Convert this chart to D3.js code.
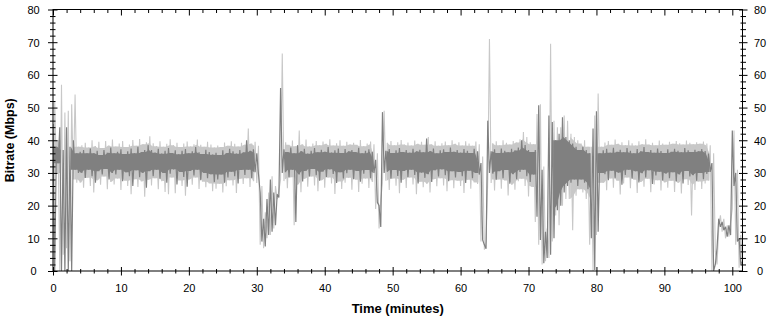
<!DOCTYPE html>
<html><head><meta charset="utf-8">
<script src="https://cdn.jsdelivr.net/npm/d3@7"></script>
<style>
html,body{margin:0;padding:0;background:#fff;}
svg{display:block;}
text{font-family:"Liberation Sans",Arial,sans-serif;fill:#000;}
</style></head>
<body>
<svg id="chart" width="773" height="320"></svg>
<script>
// ---- data: bitrate samples (Mbps), one high/low pair every half minute ----
const minutes = d3.range(0, 102, 0.5); // 0 .. 101.5

const darkHigh = [
45,38,44,37,44,38,40,36,
36.5,37,36,37.5,36,36.8,35.5,37,36.2,37.8,
36,36.5,37.2,35.8,36.6,37.5,36,38,36.4,37,
38.5,37,36.2,37.4,35.9,36.8,37.6,36.1,36.9,35.7,
36.8,37.3,36,36.6,37.9,36.3,35.8,37.1,36.4,35.6,
36.2,35.5,36.9,36.1,37.4,36.6,35.9,37,36.3,40,
36.8,37.2,36,
24,16,22,28,24,23.5,56,
37.2,36.4,37.8,36,38.5,36.7,37.4,35.9,36.8,37.6,
36.3,37.1,36.5,37.9,36.2,36.9,37.5,36.1,37.3,36.6,
37,36.4,37.7,36,36.8,37.2,36.5,
34,20,48.6,
36.8,37.3,36.1,36.9,37.6,36.4,37,36.2,37.4,36.6,
37.1,36.3,40.5,36.7,37.5,36,36.9,37.2,36.4,37.8,
36.5,37,36.2,37.3,36.8,36.1,37.4,36.6,
33,8,46,
36.6,37.2,36.1,37.5,36.8,36.3,37.4,36.9,37.8,40,38.5,37,36.4,
37,50.7,31,12,47.6,45.6,40,42,47,41,40,39,38,37,38,37,36,43.6,48.9,36,
36.9,37.4,36.2,37.7,36.5,37.1,36.3,37.6,36.8,36,
37.3,36.6,37.9,36.4,37,36.2,37.5,36.7,36.1,37.2,
36.5,37.4,36.8,36.3,37.6,36.9,36.4,37.1,36.6,37.3,36.7,35.9,
33,2,16,15,13.5,14,43,30,10,3
];
const darkLow = [
0,33,0,0,0,0,31,30,
30,28.5,31,29,27,30.5,29.5,31.2,28,30,
29.5,31,27.5,30.2,29,26,30.8,28.7,30,25.5,
30.5,29,31,28.2,30,27,29.8,31.1,26.5,30.3,
28.8,25.8,30.6,29.2,31,27.8,30,28.4,29.6,27.2,
28,29.5,27,28.6,30.4,29,26.8,30.9,29.4,31,
28.5,30.2,29.6,
9,7.5,11,12,14,22.5,30,
30.2,28.6,31,15,29.5,27.4,30.6,28.9,31.2,29.3,
27.6,30.4,28.8,31.1,29.7,26.9,30.2,28.3,29.9,31,
28.1,30.6,27.3,29.8,30.9,28.5,30,
21,13.5,30,
30.4,28.2,30.9,29.1,27,30.6,28.7,31,29.4,26.8,
30.1,28.5,29.6,27.2,30.8,28.9,31.1,29.3,27.5,30.5,
28.6,30.3,29,26.9,30.7,28.4,30,29.5,
9.5,6.8,30,
29.8,27.9,30.5,28.4,30.9,26.7,29.6,28.1,30.3,31,29,27.2,29.5,
16.6,9.5,2.4,4,5,10,18.6,20,24,26,27,28,26,28,27,25,10,0.3,12,30,
29.6,27.8,30.7,28.5,30.1,26.4,29.4,31,28.2,30.5,
27.1,29.9,28.6,30.8,26.6,29.2,30.4,27.7,29.8,28.4,
30.2,27.4,29.5,26.8,30.6,28.9,29.3,27.6,30,28.1,29.7,30.3,
0,7,13.5,12.5,10.5,11,26,9,2,0
];
const lightHigh = [
52,40,57,48.5,49,51,54,38,
38.5,39.2,37.8,40,38.2,39.5,37.6,39.8,38.4,40.2,
38.1,39,39.8,37.9,38.7,40.1,38.3,40.4,38.8,39.4,
41.2,39.1,38.2,39.7,38,38.9,40.3,38.5,39.2,37.9,
39,39.6,38.1,38.8,40.2,38.6,38,39.5,38.7,37.8,
38.4,37.9,39.3,38.3,39.7,38.9,38.1,39.2,38.6,43.6,
39,39.5,38.3,
26,18,24,29,26,24.5,66.5,
39.4,38.6,39.9,38.2,43,38.8,40.2,38.1,39,39.8,
38.5,39.6,38.9,40.3,38.4,39.1,40,38.3,39.5,38.7,
39.2,38.6,40.1,38.2,39,39.6,38.8,
36,22,49,
39.2,39.8,38.5,39.4,40.1,38.7,39.3,38.4,39.9,38.9,
39.5,38.6,41,38.8,39.7,38.3,39.1,39.6,38.5,40,
38.9,39.4,38.4,39.7,39,38.3,39.6,38.8,
35,9,71,
39.1,39.7,38.5,40,39.2,38.7,39.8,39.3,40.3,42.5,41,39.4,38.8,
48,51,32,13,69.5,46,44,44,47.6,46,42,41,40,39,40,38,38,47.6,54.3,38,
39.3,39.8,38.6,40.2,38.9,39.4,38.5,40,39.1,38.4,
39.7,38.8,40.3,38.7,39.2,38.5,39.9,39,38.6,39.5,
38.9,39.8,39.1,38.7,39.9,39.2,38.8,39.4,38.9,39.6,39,38.5,
36,2,17,16,14,15,43,31,11,3
];
const lightLow = [
2,30,0,5,7,3,28,27,
27,25.5,28.5,26,24,27.8,26.4,28.9,25,27.2,
26.5,28.3,24.8,27.6,26,23.5,28.1,25.7,27.4,22.7,
27.9,26.2,28.4,25,27.5,24.2,23.5,28.6,23.8,27.7,
26,23,28,26.4,28.6,25.1,27.3,25.6,26.8,24.4,
25.2,26.7,24,25.9,27.8,26.2,23.9,28.2,26.6,28.4,
25.7,27.5,26.9,
8,7,10,11,13,22,28,
27.5,25.3,28.7,14,26.4,24.1,28.2,25.8,28.9,26.2,
24.4,27.8,25.5,28.6,26.8,23.6,27.4,25.1,27,28.5,
24.9,27.9,24.2,26.7,28.3,25.4,27.2,
19,13,27,
27.6,24.8,28.3,26.1,23.8,27.9,25.4,28.6,26.5,23.5,
27.3,25.6,26.7,24,28.1,25.9,28.4,26.2,24.4,27.8,
25.3,27.6,26,23.9,27.9,25.2,27.1,26.6,
9,6.5,28,
26.9,24.6,28,25.2,27.7,23.1,26.4,24.9,27.5,28.2,26,22.8,25.7,
15,8,2,3,4,9,17,14,20,22,22,12.5,23,25,24,22,8,0,11,27,
27,24.7,28.3,25.5,27.6,23.4,26.8,28.6,25.3,27.9,
23.9,27.2,25.8,28.2,24.1,26.5,27.8,24.6,27.1,25.5,
27.6,24.2,26.9,23.7,28.1,26.3,17,24.8,27.4,25.1,26.8,27.7,
0,6,13,12,10,10.5,19,8,1,0
];

const xMajor = d3.range(0, 101, 10);
const xMinor = d3.range(0, 102, 2).filter(v => v % 10 !== 0);
const yMajor = d3.range(0, 81, 10);
const yMinor = d3.range(0, 81, 2).filter(v => v % 10 !== 0);
const xTitle = "Time (minutes)";
const yTitle = "Bitrate (Mbps)";

// ---- layout ----
const L = 53, R = 742.5, T = 9.5, B = 271;
const x = d3.scaleLinear().domain([0, 101.5]).range([L, R]);
const y = d3.scaleLinear().domain([0, 80]).range([B, T]);
const svg = d3.select("#chart");

svg.append("defs").append("clipPath").attr("id","clip")
  .append("rect").attr("x", L).attr("y", T).attr("width", R - L).attr("height", B - T);

const n = Math.min(minutes.length, darkHigh.length, darkLow.length, lightHigh.length, lightLow.length);
const half = 0.25;
function zig(first, second) {
  const pts = [];
  for (let i = 0; i < n; i++) {
    pts.push([minutes[i], first[i]]);
    pts.push([minutes[i] + half, second[i]]);
  }
  return pts;
}
// dense core of a series: the range shared by a sample and its neighbours
function core(hi, lo) {
  const out = [];
  for (let i = 0; i < n; i++) {
    const a = Math.max(0, i - 1), b = Math.min(n - 1, i + 1);
    const top = d3.min([hi[a], hi[i], hi[b]]);
    const bot = d3.max([lo[a], lo[i], lo[b]]);
    out.push({t: minutes[i] + half / 2, top, bot});
  }
  return out;
}
const line = d3.line().x(d => x(d[0])).y(d => y(d[1]));
const area = d3.area().defined(d => d.top - d.bot > 1.5 && d.top < 42 && d.bot > 18)
  .x(d => x(d.t)).y0(d => y(d.bot)).y1(d => y(d.top));

const g = svg.append("g").attr("clip-path", "url(#clip)");
const lightCol = "#c8c8c8", darkCol = "#808080";
g.append("path").attr("d", area(core(lightHigh, lightLow))).attr("fill", lightCol);
g.append("path").attr("d", line(zig(lightLow, lightHigh)))
  .attr("fill","none").attr("stroke",lightCol).attr("stroke-width",1.1).attr("stroke-linejoin","bevel");
g.append("path").attr("d", area(core(darkHigh, darkLow))).attr("fill", darkCol);
g.append("path").attr("d", line(zig(darkHigh, darkLow)))
  .attr("fill","none").attr("stroke",darkCol).attr("stroke-width",1.2).attr("stroke-linejoin","bevel");

// ---- axes ----
function styleAxis(sel) {
  sel.select(".domain").remove();
  sel.selectAll("line").attr("stroke","#000").attr("stroke-width",1);
  sel.selectAll("text").attr("font-size","11px").attr("font-family","'Liberation Sans',Arial,sans-serif");
}
// left
const gl = svg.append("g").attr("transform",`translate(${L},0)`).call(d3.axisLeft(y).tickValues(yMajor).tickSize(0).tickPadding(0));
gl.call(styleAxis);
gl.selectAll(".tick line").attr("x1",-5).attr("x2",4.5);
gl.selectAll(".tick text").attr("x", 33.5 - L).attr("text-anchor","middle").attr("dy","0.35em");
const glm = svg.append("g").attr("transform",`translate(${L},0)`).call(d3.axisLeft(y).tickValues(yMinor).tickSize(0).tickFormat(""));
glm.call(styleAxis); glm.selectAll(".tick line").attr("x1",-3).attr("x2",2.5);
// right
const gr = svg.append("g").attr("transform",`translate(${R},0)`).call(d3.axisRight(y).tickValues(yMajor).tickSize(0).tickPadding(0));
gr.call(styleAxis);
gr.selectAll(".tick line").attr("x1",-3.5).attr("x2",5);
gr.selectAll(".tick text").attr("x", 760 - R).attr("text-anchor","middle").attr("dy","0.35em");
const grm = svg.append("g").attr("transform",`translate(${R},0)`).call(d3.axisRight(y).tickValues(yMinor).tickSize(0).tickFormat(""));
grm.call(styleAxis); grm.selectAll(".tick line").attr("x1",-2).attr("x2",3.5);
// bottom
const gb = svg.append("g").attr("transform",`translate(0,${B})`).call(d3.axisBottom(x).tickValues(xMajor).tickSize(0).tickPadding(0));
gb.call(styleAxis);
gb.selectAll(".tick line").attr("y1",-4).attr("y2",4.5);
gb.selectAll(".tick text").attr("y", 21).attr("dy", 0);
const gbm = svg.append("g").attr("transform",`translate(0,${B})`).call(d3.axisBottom(x).tickValues(xMinor).tickSize(0).tickFormat(""));
gbm.call(styleAxis); gbm.selectAll(".tick line").attr("y1",-2).attr("y2",2.5);
// top
const gt = svg.append("g").attr("transform",`translate(0,${T})`).call(d3.axisTop(x).tickValues(xMajor).tickSize(0).tickFormat(""));
gt.call(styleAxis); gt.selectAll(".tick line").attr("y1",0).attr("y2",6);
const gtm = svg.append("g").attr("transform",`translate(0,${T})`).call(d3.axisTop(x).tickValues(xMinor).tickSize(0).tickFormat(""));
gtm.call(styleAxis); gtm.selectAll(".tick line").attr("y1",0).attr("y2",3.5);

// frame
svg.append("rect").attr("x", L).attr("y", T).attr("width", R - L).attr("height", B - T)
  .attr("fill","none").attr("stroke","#000").attr("stroke-width",1);

// titles
svg.append("text").attr("x", (L + R) / 2).attr("y", 313).attr("text-anchor","middle")
  .attr("font-size","13px").attr("font-weight","bold").attr("fill","#111").text(xTitle);
svg.append("text").attr("transform",`translate(13.5,${(T + B) / 2}) rotate(-90)`).attr("text-anchor","middle")
  .attr("font-size","12.5px").attr("font-weight","bold").attr("fill","#111").text(yTitle);
</script>
</body></html>
